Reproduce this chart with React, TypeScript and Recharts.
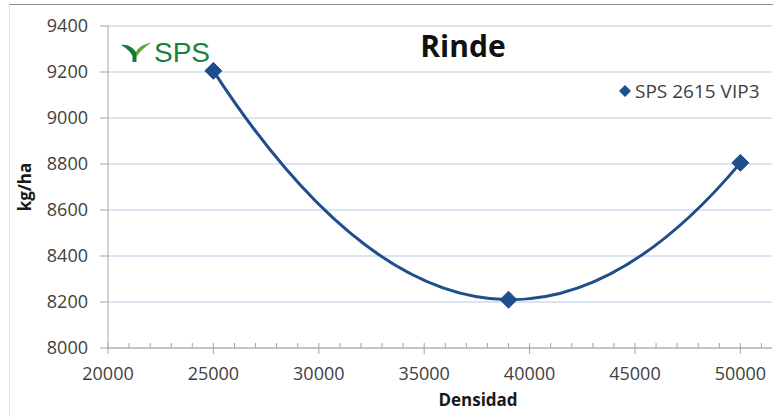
import React from 'react';
import { LineChart, Line, XAxis, YAxis, CartesianGrid, Legend, ReferenceLine } from 'recharts';

const densidad = [25000, 39000, 50000];
const rinde = [9205, 8210, 8805];
const seriesName = 'SPS 2615 VIP3';
const xTicks = [20000, 25000, 30000, 35000, 40000, 45000, 50000];
const xMinorTicks = [21000, 22000, 23000, 24000, 26000, 27000, 28000, 29000, 31000, 32000, 33000, 34000, 36000, 37000, 38000, 39000, 41000, 42000, 43000, 44000, 46000, 47000, 48000, 49000, 51000];
const yTicks = [8000, 8200, 8400, 8600, 8800, 9000, 9200, 9400];

const data = densidad.map((d, i) => ({ densidad: d, rinde: rinde[i] }));

const NAVY = '#1f4e8c';
const FONT = '"Open Sans", sans-serif';
const TEXT = '#404040';

// Smooth curve (cubic Hermite with tangents of the local parabola), as a d3-style curve factory
function curveParabolic(context: any) {
  let xs: number[] = [];
  let ys: number[] = [];
  let lineState = NaN;
  const tangent = (i: number) => {
    const n = xs.length;
    if (n < 3) return n === 2 ? (ys[1] - ys[0]) / (xs[1] - xs[0]) : 0;
    const c = Math.min(Math.max(i, 1), n - 2);
    const h0 = xs[c] - xs[c - 1];
    const h1 = xs[c + 1] - xs[c];
    const d0 = (ys[c] - ys[c - 1]) / h0;
    const d1 = (ys[c + 1] - ys[c]) / h1;
    if (i === c) return (h1 * d0 + h0 * d1) / (h0 + h1);
    if (i < c) return d0 - (h0 * (d1 - d0)) / (h0 + h1);
    return d1 + (h1 * (d1 - d0)) / (h0 + h1);
  };
  return {
    areaStart() { lineState = 0; },
    areaEnd() { lineState = NaN; },
    lineStart() { xs = []; ys = []; },
    lineEnd() {
      const n = xs.length;
      if (n) {
        if (lineState) context.lineTo(xs[0], ys[0]); else context.moveTo(xs[0], ys[0]);
        const m = xs.map((_, i) => tangent(i));
        for (let i = 0; i < n - 1; i++) {
          const dx = (xs[i + 1] - xs[i]) / 3;
          context.bezierCurveTo(xs[i] + dx, ys[i] + m[i] * dx, xs[i + 1] - dx, ys[i + 1] - m[i + 1] * dx, xs[i + 1], ys[i + 1]);
        }
      }
      if (lineState || (lineState !== 0 && n === 1)) context.closePath();
      lineState = 1 - lineState;
    },
    point(x: number, y: number) { xs.push(+x); ys.push(+y); },
  };
}

const Diamond = (props: any) => {
  const { cx, cy, index } = props;
  if (cx == null || cy == null) return <g key={index} />;
  const r = 8.5;
  return (
    <path
      key={index}
      d={`M${cx},${cy - r} L${cx + r},${cy} L${cx},${cy + r} L${cx - r},${cy} Z`}
      fill={NAVY}
      stroke={NAVY}
      strokeWidth={1}
    />
  );
};

const LegendContent = () => (
  <div style={{ display: 'flex', alignItems: 'center', fontFamily: FONT, fontSize: 19, color: TEXT, whiteSpace: 'nowrap', height: 0, overflow: 'visible' }}>
    <svg width={14} height={14} style={{ marginRight: 3 }}>
      <path d="M7,1 L13,7 L7,13 L1,7 Z" fill={NAVY} />
    </svg>
    <span>{seriesName}</span>
  </div>
);

const YLabel = (props: any) => {
  const vb = props.viewBox || {};
  const x = vb.x + 24;
  const y = vb.y + vb.height / 2;
  return (
    <text x={x} y={y} transform={`rotate(-90 ${x} ${y})`} textAnchor="middle" dominantBaseline="central"
      fontFamily={FONT} fontSize={17} fontWeight={700} fill="#1a1a1a">kg/ha</text>
  );
};

const XLabel = (props: any) => {
  const vb = props.viewBox || {};
  const x = vb.x + vb.width / 2 + 38;
  const y = vb.y + 58;
  return (
    <text x={x} y={y} textAnchor="middle" fontFamily={FONT} fontSize={17} fontWeight={700} fill="#1a1a1a">Densidad</text>
  );
};

export default function App() {
  return (
    <div style={{ position: 'absolute', left: 0, top: 0, width: 773, height: 417, background: '#fff', overflow: 'hidden' }}>
      <div style={{ position: 'absolute', left: 9, top: 4, right: 0, bottom: 0, borderTop: '1.5px solid #8c8c8c', borderLeft: '1px solid #e4e4e4' }} />
      <LineChart width={773} height={417} data={data} margin={{ top: 26, right: 1, bottom: 0, left: 0 }} style={{ position: 'absolute', left: 0, top: 0 }}>
        <CartesianGrid horizontal={true} vertical={false} stroke="#b7cae6" strokeWidth={1.2} />
        <XAxis
          dataKey="densidad"
          type="number"
          domain={[20000, 51500]}
          ticks={xTicks}
          allowDataOverflow
          height={69}
          tickSize={6}
          tickMargin={13}
          stroke="#a6a6a6"
          tick={{ fill: TEXT, fontFamily: FONT, fontSize: 18 }}
          label={<XLabel />}
        />
        <YAxis
          type="number"
          domain={[8000, 9400]}
          ticks={yTicks}
          width={108}
          tickSize={8}
          tickMargin={12}
          stroke="#a6a6a6"
          tick={{ fill: TEXT, fontFamily: FONT, fontSize: 18 }}
          label={<YLabel />}
        />
        {xMinorTicks.map((t) => (
          <ReferenceLine key={t} segment={[{ x: t, y: 8000 }, { x: t, y: 8022 }]} stroke="#a6a6a6" />
        ))}
        {xTicks.map((t) => (
          <ReferenceLine key={'M' + t} segment={[{ x: t, y: 8000 }, { x: t, y: 8022 }]} stroke="#a6a6a6" />
        ))}
        <Legend
          verticalAlign="top"
          align="left"
          layout="horizontal"
          content={<LegendContent />}
          wrapperStyle={{ position: 'absolute', left: 618, top: 91, width: 160, height: 0, overflow: 'visible' }}
        />
        <Line
          type={curveParabolic as any}
          dataKey="rinde"
          name={seriesName}
          stroke={NAVY}
          strokeWidth={3}
          dot={<Diamond />}
          activeDot={false}
          isAnimationActive={false}
        />
      </LineChart>
      <svg width={773} height={417} style={{ position: 'absolute', left: 0, top: 0, pointerEvents: 'none' }}>
        <text x={463} y={57} textAnchor="middle" fontFamily={FONT} fontSize={30} fontWeight={700} fill="#111">Rinde</text>
        <path d="M121,45 C127,44 133,47 136.5,53 L136.5,62 L132.5,62 L132.5,56 C130,51 126,48 121,45 Z" fill="#17763a" />
        <path d="M151,43 C145,43.5 138.5,47 136,52 L136,57.5 C139.5,51.5 145,47 151,43 Z" fill="#5ea52e" />
        <text x={154} y={62} fontFamily='"Liberation Sans", Arial, sans-serif' fontSize={28} fill="#17843e">SPS</text>
      </svg>
    </div>
  );
}
